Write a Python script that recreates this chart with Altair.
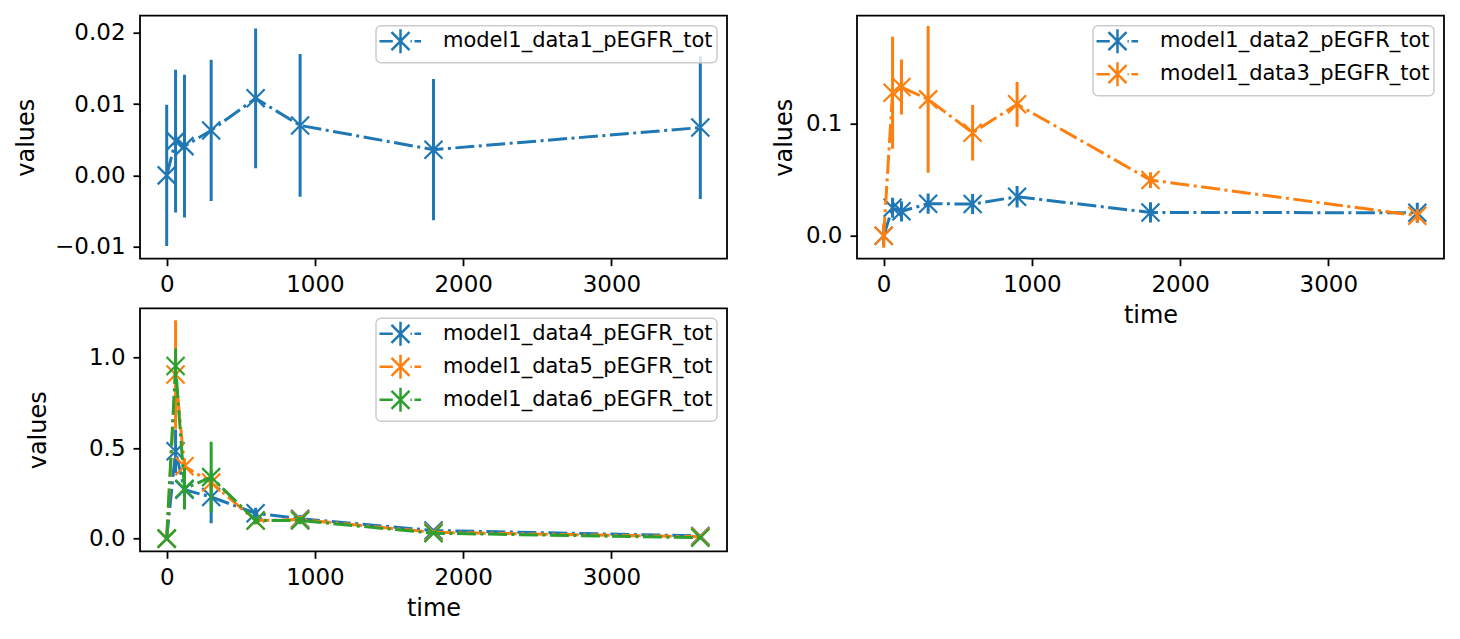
import altair as alt
import pandas as pd

times = [0, 60, 120, 300, 600, 900, 1800, 3600]

names1 = ["model1_data1_pEGFR_tot"]
names2 = ["model1_data2_pEGFR_tot", "model1_data3_pEGFR_tot"]
names3 = ["model1_data4_pEGFR_tot", "model1_data5_pEGFR_tot", "model1_data6_pEGFR_tot"]

d1_val = [0.0, 0.0048, 0.0041, 0.0063, 0.0108, 0.0070, 0.0036, 0.0067]
d1_err = [0.0099, 0.0100, 0.0100, 0.0099, 0.0098, 0.0100, 0.0099, 0.0100]

d2_val = [0.0, 0.0250, 0.0218, 0.0286, 0.0283, 0.0348, 0.0208, 0.0205]
d2_err = [0.0090, 0.0090, 0.0090, 0.0090, 0.0090, 0.0095, 0.0090, 0.0090]
d3_val = [0.0, 0.1277, 0.1327, 0.1217, 0.0920, 0.1173, 0.0497, 0.0179]
d3_err = [0.0107, 0.0500, 0.0245, 0.0655, 0.0248, 0.0200, 0.0070, 0.0060]

d4_val = [0.0, 0.483, 0.270, 0.230, 0.140, 0.110, 0.045, 0.015]
d4_err = [0.009, 0.120, 0.040, 0.145, 0.030, 0.020, 0.010, 0.010]
d5_val = [0.0, 0.907, 0.400, 0.310, 0.100, 0.105, 0.035, 0.010]
d5_err = [0.009, 0.300, 0.040, 0.040, 0.020, 0.020, 0.010, 0.010]
d6_val = [0.0, 0.954, 0.276, 0.340, 0.100, 0.100, 0.030, 0.005]
d6_err = [0.009, 0.097, 0.115, 0.195, 0.020, 0.020, 0.010, 0.010]

colors = ["#1f77b4", "#ff7f0e", "#2ca02c"]

XPATH = "M-1,-1L1,1M-1,1L1,-1"
# legend handle: dash-dot line with an "x" marker and a vertical error bar
LEGPATH = ("M-1.2,0H0.13M1.9,0H2.03M2.3,0H2.96"
           "M0,-0.9L1.8,0.9M0,0.9L1.8,-0.9M0.9,-1.2V1.2")

FONT = "DejaVu Sans"
W, H = 587, 243


def panel(names, vals, errs, ydomain, yticks, yfmt, xtitle, ytitlepad):
    cscale = alt.Scale(domain=names, range=colors[:len(names)])
    xenc = alt.X("time:Q",
                 scale=alt.Scale(domain=[-180, 3780], nice=False, zero=False),
                 axis=alt.Axis(values=[0, 1000, 2000, 3000], format="d",
                               title=xtitle))
    yscale = alt.Scale(domain=ydomain, nice=False, zero=False)
    yaxis = alt.Axis(values=yticks, format=yfmt, title="values",
                     titlePadding=ytitlepad)
    legend = alt.Legend(title=None, orient="top-right", offset=10,
                        symbolType=LEGPATH, symbolSize=400,
                        symbolStrokeWidth=2.5, labelOffset=40,
                        labelFontSize=21, labelFont=FONT, labelLimit=0,
                        rowPadding=-2, padding=4)
    col = alt.Color("series:N", scale=cscale, legend=legend)
    layers = []
    for name, v, e in zip(names, vals, errs):
        df = pd.DataFrame({
            "time": times,
            "value": v,
            "lo": [a - b for a, b in zip(v, e)],
            "hi": [a + b for a, b in zip(v, e)],
            "series": name,
        })
        base = alt.Chart(df)
        rule = base.mark_rule(strokeWidth=3, clip=True).encode(
            x=xenc,
            y=alt.Y("lo:Q", scale=yscale, axis=yaxis),
            y2="hi:Q",
            color=col,
        )
        line = base.mark_line(strokeWidth=3, strokeDash=[19, 4.5, 3, 4.5],
                              clip=True).encode(
            x=xenc,
            y=alt.Y("value:Q", scale=yscale, axis=yaxis),
            color=col,
        )
        pts = base.mark_point(shape=XPATH, size=324, filled=False,
                              strokeWidth=2.2, opacity=1, clip=True).encode(
            x=xenc,
            y=alt.Y("value:Q", scale=yscale, axis=yaxis),
            color=col,
        )
        layers += [rule, line, pts]
    return alt.layer(*layers).properties(width=W, height=H)


p1 = panel(names1, [d1_val], [d1_err], [-0.01168, 0.02238],
           [-0.01, 0.0, 0.01, 0.02], ".2f", None, 16)
p2 = panel(names2, [d2_val, d3_val], [d2_err, d3_err], [-0.0205, 0.1964],
           [0.0, 0.1], ".1f", "time", 9)
p3 = panel(names3, [d4_val, d5_val, d6_val], [d4_err, d5_err, d6_err],
           [-0.070, 1.273], [0.0, 0.5, 1.0], ".1f", "time", 38)

chart = alt.concat(p1, p2, p3, columns=2,
                   spacing={"row": 49.6, "column": 130},
                   bounds="flush").resolve_scale(
    color="independent").resolve_legend(color="independent").properties(
    padding={"left": 13, "top": 14.7, "right": 10, "bottom": 5}
).configure_view(
    stroke="black", strokeWidth=1.8
).configure_axis(
    labelFont=FONT, labelFontSize=23, titleFont=FONT, titleFontSize=24,
    titleFontWeight="normal", labelColor="black", titleColor="black",
    tickColor="black", tickWidth=1.8, tickSize=7, domain=False, grid=False,
    labelPadding=8
).configure_axisBottom(
    titlePadding=7
).configure_legend(
    strokeColor="#cccccc", strokeWidth=1.5, fillColor="rgba(255,255,255,0.8)",
    cornerRadius=5
)

chart.save("out.html", embed_options={"renderer": "svg", "actions": False})
